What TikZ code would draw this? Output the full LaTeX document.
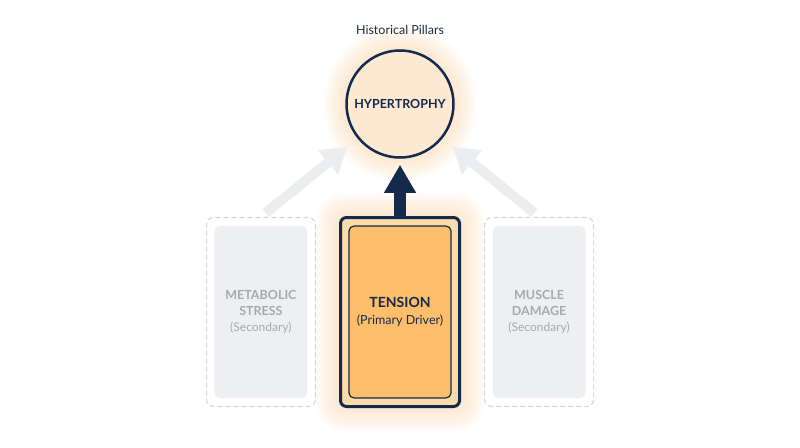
\documentclass[tikz,border=0pt]{standalone}
\usepackage{fontspec}
\setmainfont{Lato}
\usepackage{xcolor}
\definecolor{cNavy}{HTML}{142A4C}
\definecolor{cText}{HTML}{1F2A3C}
\definecolor{cPeach}{HTML}{FDE9D2}
\definecolor{cPeachBox}{HTML}{FDDAAA}
\definecolor{cOrange}{HTML}{FCBE6A}
\definecolor{cGlow}{HTML}{FBC689}
\definecolor{cGhostLine}{HTML}{D6D8DC}
\definecolor{cGhostFill}{HTML}{EEEFF2}
\definecolor{cGhostText}{HTML}{A7A9AE}
\definecolor{cGhostArrow}{HTML}{ECEDEF}
\usepackage{tikz}
\usetikzlibrary{positioning,arrows.meta,backgrounds}
\tikzset{
  node-hub/.style={draw=cNavy,line width=2.5pt,circle,fill=cPeach,
    minimum size=107pt,inner sep=0pt,text=cNavy,
    font=\bfseries\fontsize{12.5}{15}\selectfont},
  node-frame/.style={draw=cNavy,line width=3pt,rounded corners=6pt,
    fill=cPeachBox,minimum width=119pt,minimum height=189pt},
  node-core/.style={draw=cNavy,line width=1.2pt,rounded corners=5pt,
    fill=cOrange,minimum width=102pt,minimum height=172pt,align=center,
    text=cNavy,font=\fontsize{12.5}{17}\selectfont},
  node-ghost/.style={draw=cGhostLine,line width=1.2pt,
    dash pattern=on 5pt off 3pt,rounded corners=7pt,
    minimum width=109pt,minimum height=189pt},
  node-ghost-core/.style={fill=cGhostFill,rounded corners=5pt,
    minimum width=93pt,minimum height=172pt,align=center,
    text=cGhostText,font=\fontsize{12}{16}\selectfont},
  % main push vs. faded secondary pushes
  arrow/.style={-{Triangle[width=30pt,length=28pt]},line width=12pt,draw=cNavy},
  arrow-ghost/.style={-{Triangle[width=30pt,length=25pt]},line width=10pt,
    draw=cGhostArrow},
}

\begin{document}
\begin{tikzpicture}[x=1pt,y=-1pt]
  \useasboundingbox (0,0) rectangle (800,447);
  \node[text=cText,font=\fontsize{12.5}{14}\selectfont] (title) at (400,30) {Historical Pillars};
  \node[node-hub] (hyper) at (400,104) {HYPERTROPHY};
  \node[node-frame] (tension) at (400,312) {};
  \node[node-core] (tension-core) at (tension.center)
    {{\bfseries\fontsize{14}{17}\selectfont TENSION}\\(Primary Driver)};
  \node[node-ghost,left=23pt of tension] (metabolic) {};
  \node[node-ghost-core] (metabolic-core) at (metabolic.center)
    {{\bfseries\fontsize{12.5}{16}\selectfont METABOLIC}\\{\bfseries\fontsize{12.5}{16}\selectfont STRESS}\\(Secondary)};
  \node[node-ghost,right=23pt of tension] (damage) {};
  \node[node-ghost-core] (damage-core) at (damage.center)
    {{\bfseries\fontsize{12.5}{16}\selectfont MUSCLE}\\{\bfseries\fontsize{12.5}{16}\selectfont DAMAGE}\\(Secondary)};
  \draw[arrow,shorten >=6pt] (tension.north) -- (hyper.south);
  \begin{scope}[on background layer]
    \foreach \i in {1,...,12}{
      \pgfmathsetlengthmacro\rc{6pt+2pt*\i}
      \fill[cGlow,opacity=.04] (hyper.center) circle[radius=54pt+2pt*\i];
      \fill[cGlow,opacity=.04,rounded corners=\rc]
        ([xshift=-2pt*\i,yshift=2pt*\i]tension.north west) rectangle
        ([xshift=2pt*\i,yshift=-2pt*\i]tension.south east);
    }
    \draw[arrow-ghost,shorten <=6pt,shorten >=13pt] (metabolic.north) -- (hyper);
    \draw[arrow-ghost,shorten <=6pt,shorten >=13pt] (damage.north) -- (hyper);
  \end{scope}
\end{tikzpicture}
\end{document}
